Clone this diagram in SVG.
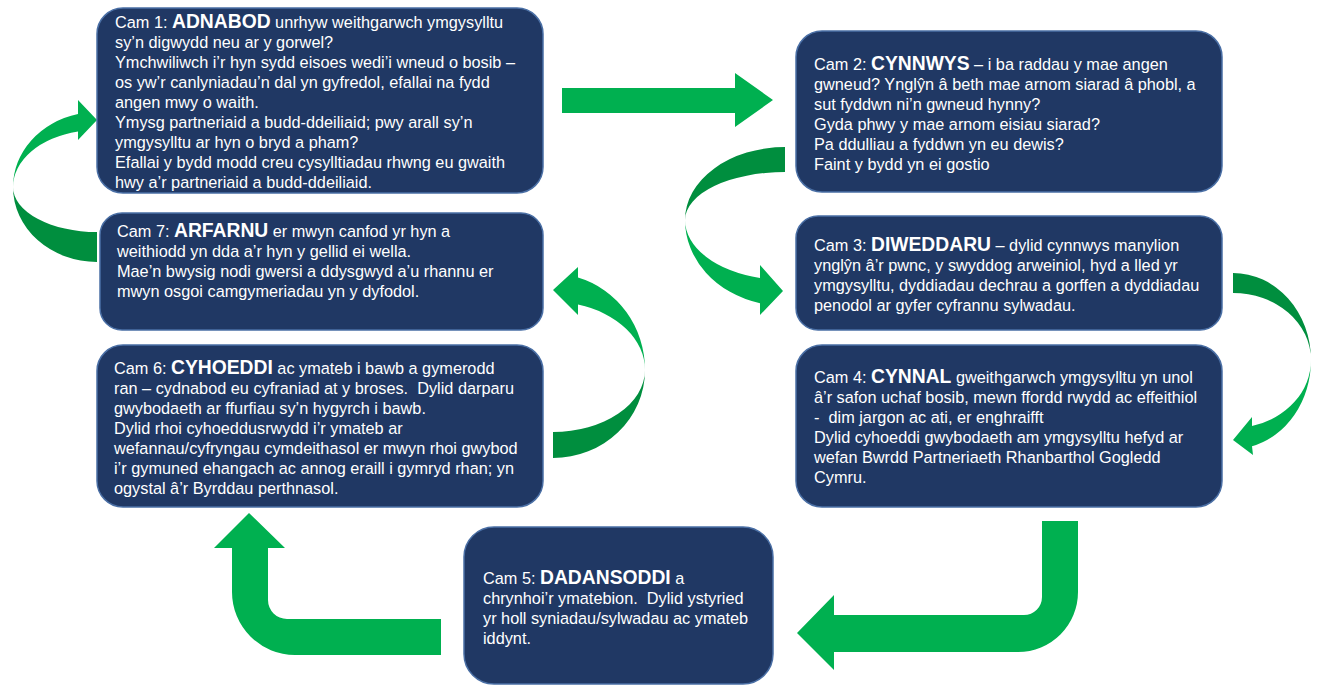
<svg xmlns="http://www.w3.org/2000/svg" width="1320" height="686" viewBox="0 0 1320 686">
<style>
.box{fill:#203864;stroke:#4A6FA5;stroke-width:1.5}
.t{font-family:"Liberation Sans",Arial,sans-serif;font-size:16.3px;fill:#ffffff}
.b{font-weight:bold;font-size:19.3px}
.lg{fill:#00B050}
.dg{fill:#008E3E}
</style>
<rect width="1320" height="686" fill="#ffffff"/>
<g id="connectors">
<path class="lg" d="M562,88 L735,88 L735,73 L773,100 L735,127 L735,113 L562,113 Z"/>
<path class="dg" d="M785,147 A100,73 0 0 0 685,220 A100,48 0 0 1 785,172 Z"/>
<path class="lg" d="M685,220 A100,86 0 0 0 760,303.3 L760,315 L783,291 L760,265 L760,278 A100,60 0 0 1 685,220 Z"/>
<path class="dg" d="M1233,273 A78,87 0 0 1 1311,360 A78,67 0 0 0 1233,293 Z"/>
<path class="lg" d="M1311,360 A78,89 0 0 1 1252,446.3 L1253,455 L1233,440 L1252,417 L1252,426 A78,68 0 0 0 1311,360 Z"/>
<path class="lg" d="M1042,521 L1078,521 L1078,592 A60,60 0 0 1 1018,652 L834,652 L834,670 L797,633 L834,595 L834,615 L1024,615 A18,18 0 0 0 1042,597 Z"/>
<path class="lg" d="M441,619 L441,655 L295,655 A63,63 0 0 1 232,592 L232,548 L214,548 L249,513 L285,548 L268,548 L268,600 A19,19 0 0 0 287,619 Z"/>
<path class="dg" d="M645,370 A92,88 0 0 1 553,458 L553,432 A92,62 0 0 0 645,370 Z"/>
<path class="lg" d="M645,370 A92,96 0 0 0 578,277.6 L578,267 L553,290 L578,315 L578,304.6 A92,68 0 0 1 645,370 Z"/>
<path class="dg" d="M13,187 A84,75 0 0 0 97,262 L97,232 A84,45 0 0 1 13,187 Z"/>
<path class="lg" d="M13,187 A84,75 0 0 1 78,114 L78,100 L97,120 L78,140 L78,131.5 A84,57 0 0 0 13,187 Z"/>
</g>
<g id="cam1">
<rect class="box" x="97" y="8" width="446" height="185" rx="26"/>
<text class="t"><tspan x="115" y="28">Cam 1: <tspan class="b">ADNABOD</tspan> unrhyw weithgarwch ymgysylltu</tspan><tspan x="115" y="48">sy’n digwydd neu ar y gorwel?</tspan><tspan x="115" y="68">Ymchwiliwch i’r hyn sydd eisoes wedi’i wneud o bosib –</tspan><tspan x="115" y="88">os yw’r canlyniadau’n dal yn gyfredol, efallai na fydd</tspan><tspan x="115" y="108">angen mwy o waith.</tspan><tspan x="115" y="128">Ymysg partneriaid a budd-ddeiliaid; pwy arall sy’n</tspan><tspan x="115" y="148">ymgysylltu ar hyn o bryd a pham?</tspan><tspan x="115" y="168">Efallai y bydd modd creu cysylltiadau rhwng eu gwaith</tspan><tspan x="115" y="188">hwy a’r partneriaid a budd-ddeiliaid.</tspan></text>
</g>
<g id="cam2">
<rect class="box" x="796" y="31" width="426" height="161" rx="26"/>
<text class="t"><tspan x="814" y="70">Cam 2: <tspan class="b">CYNNWYS</tspan> – i ba raddau y mae angen</tspan><tspan x="814" y="90">gwneud? Ynglŷn â beth mae arnom siarad â phobl, a</tspan><tspan x="814" y="110">sut fyddwn ni’n gwneud hynny?</tspan><tspan x="814" y="130">Gyda phwy y mae arnom eisiau siarad?</tspan><tspan x="814" y="150">Pa ddulliau a fyddwn yn eu dewis?</tspan><tspan x="814" y="170">Faint y bydd yn ei gostio</tspan></text>
</g>
<g id="cam3">
<rect class="box" x="796" y="216" width="426" height="114" rx="22"/>
<text class="t"><tspan x="814" y="251">Cam 3: <tspan class="b">DIWEDDARU</tspan> – dylid cynnwys manylion</tspan><tspan x="814" y="271">ynglŷn â’r pwnc, y swyddog arweiniol, hyd a lled yr</tspan><tspan x="814" y="291">ymgysylltu, dyddiadau dechrau a gorffen a dyddiadau</tspan><tspan x="814" y="311">penodol ar gyfer cyfrannu sylwadau.</tspan></text>
</g>
<g id="cam4">
<rect class="box" x="796" y="345" width="426" height="162" rx="26"/>
<text class="t"><tspan x="814" y="383">Cam 4: <tspan class="b">CYNNAL</tspan> gweithgarwch ymgysylltu yn unol</tspan><tspan x="814" y="403">â’r safon uchaf bosib, mewn ffordd rwydd ac effeithiol</tspan><tspan x="814" y="423">- &#160;dim jargon ac ati, er enghraifft</tspan><tspan x="814" y="443">Dylid cyhoeddi gwybodaeth am ymgysylltu hefyd ar</tspan><tspan x="814" y="463">wefan Bwrdd Partneriaeth Rhanbarthol Gogledd</tspan><tspan x="814" y="483">Cymru.</tspan></text>
</g>
<g id="cam5">
<rect class="box" x="464" y="527" width="309" height="157" rx="30"/>
<text class="t"><tspan x="483" y="584">Cam 5: <tspan class="b">DADANSODDI</tspan> a</tspan><tspan x="483" y="604">chrynhoi’r ymatebion. &#160;Dylid ystyried</tspan><tspan x="483" y="624">yr holl syniadau/sylwadau ac ymateb</tspan><tspan x="483" y="644">iddynt.</tspan></text>
</g>
<g id="cam6">
<rect class="box" x="97" y="345" width="446" height="162" rx="26"/>
<text class="t"><tspan x="114" y="374">Cam 6: <tspan class="b">CYHOEDDI</tspan> ac ymateb i bawb a gymerodd</tspan><tspan x="114" y="394">ran – cydnabod eu cyfraniad at y broses. &#160;Dylid darparu</tspan><tspan x="114" y="414">gwybodaeth ar ffurfiau sy’n hygyrch i bawb.</tspan><tspan x="114" y="434">Dylid rhoi cyhoeddusrwydd i’r ymateb ar</tspan><tspan x="114" y="454">wefannau/cyfryngau cymdeithasol er mwyn rhoi gwybod</tspan><tspan x="114" y="474">i’r gymuned ehangach ac annog eraill i gymryd rhan; yn</tspan><tspan x="114" y="494">ogystal â’r Byrddau perthnasol.</tspan></text>
</g>
<g id="cam7">
<rect class="box" x="100" y="213" width="443" height="117" rx="22"/>
<text class="t"><tspan x="117" y="237">Cam 7: <tspan class="b">ARFARNU</tspan> er mwyn canfod yr hyn a</tspan><tspan x="117" y="257">weithiodd yn dda a’r hyn y gellid ei wella.</tspan><tspan x="117" y="277">Mae’n bwysig nodi gwersi a ddysgwyd a’u rhannu er</tspan><tspan x="117" y="297">mwyn osgoi camgymeriadau yn y dyfodol.</tspan></text>
</g>
</svg>
